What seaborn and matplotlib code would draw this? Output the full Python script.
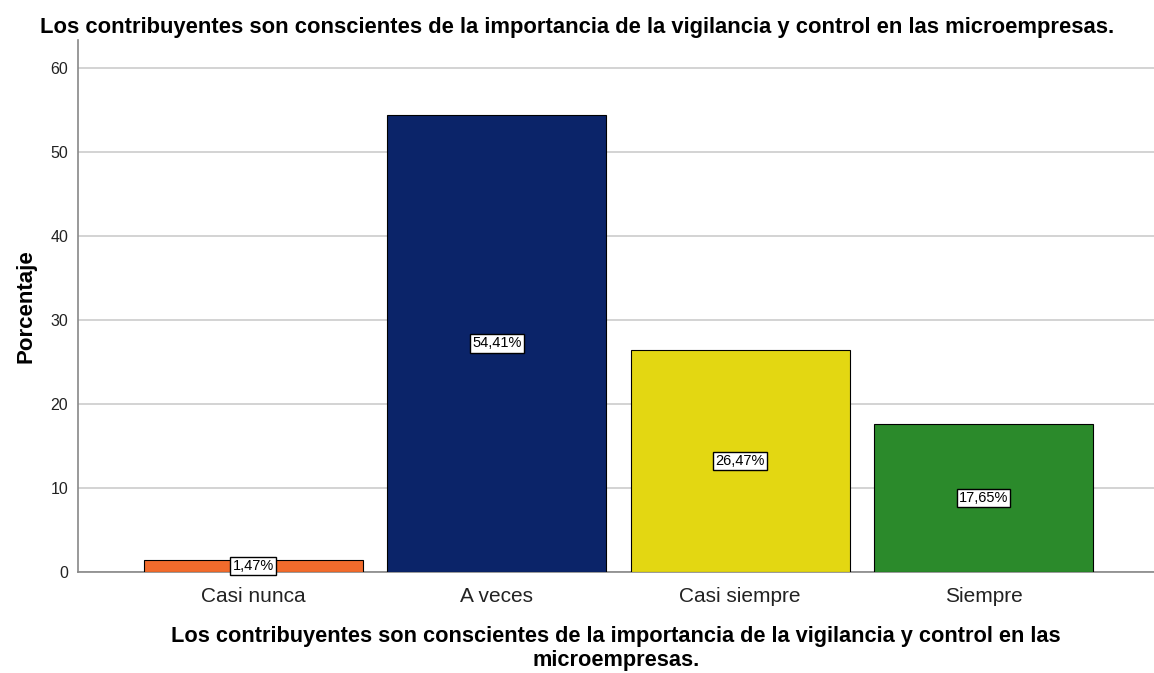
import pandas as pd
import numpy as np
import matplotlib
matplotlib.use("Agg")
import matplotlib.pyplot as plt
import seaborn as sns

categorias = ["Casi nunca", "A veces", "Casi siempre", "Siempre"]
porcentajes = [1.47, 54.41, 26.47, 17.65]
colores = ["#F26B2C", "#0B2469", "#E3D712", "#2B8A2B"]

titulo = "Los contribuyentes son conscientes de la importancia de la vigilancia y control en las microempresas."
xlab = "Los contribuyentes son conscientes de la importancia de la vigilancia y control en las\nmicroempresas."

df = pd.DataFrame({"cat": categorias, "pct": porcentajes})

sns.set_style("white")
plt.rcParams['font.family'] = ['Liberation Sans', 'DejaVu Sans']

fig = plt.figure(figsize=(11.54, 6.73), dpi=100)
ax = fig.add_axes([78 / 1154, 1 - 572 / 673, (1154 - 78) / 1154, (572 - 40) / 673])

sns.barplot(data=df, x="cat", y="pct", hue="cat", palette=colores, legend=False,
            width=0.9, edgecolor="black", linewidth=0.8, saturation=1, ax=ax, zorder=3)

ax.set_ylim(0, 63.3)
ax.set_xlim(-0.72, 3.70)
ax.set_yticks(np.arange(0, 61, 10))
ax.yaxis.grid(True, color="#cccccc", linewidth=1.2, zorder=0)
ax.set_axisbelow(True)

for s in ["top", "right"]:
    ax.spines[s].set_visible(False)
for s in ["left", "bottom"]:
    ax.spines[s].set_color("#888888")
    ax.spines[s].set_linewidth(1.2)

ax.tick_params(axis="y", labelsize=11.5, colors="#222222", length=0, pad=7)
ax.tick_params(axis="x", labelsize=15, colors="#222222", length=0, pad=11)

for i, v in enumerate(porcentajes):
    ax.text(i, v / 2, f"{v:.2f}%".replace(".", ","), ha="center", va="center",
            fontsize=10.5, color="black", zorder=5,
            bbox=dict(boxstyle="square,pad=0.15", facecolor="white", edgecolor="black", linewidth=1))

ax.set_ylabel("Porcentaje", fontsize=16, fontweight="bold", labelpad=10, color="black")
ax.set_xlabel(xlab, fontsize=15.7, fontweight="bold", labelpad=14, linespacing=1.2, color="black")
fig.text(0.5, 1 - 28 / 673, titulo, ha="center", va="center", fontsize=15.8, fontweight="bold",
         color="black")

plt.savefig("out.png", dpi=100)
